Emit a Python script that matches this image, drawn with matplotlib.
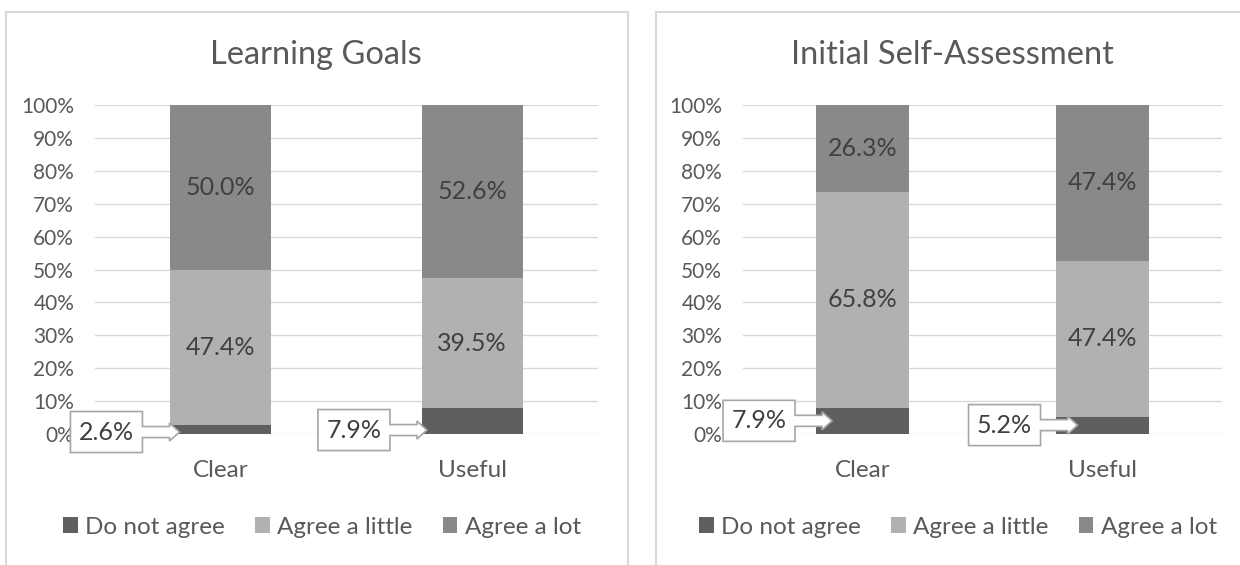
import matplotlib
matplotlib.use("Agg")
import matplotlib.pyplot as plt
import matplotlib.transforms as mtransforms
from matplotlib.patches import Polygon, Rectangle, Patch

plt.rcParams['font.family'] = ['Lato', 'DejaVu Sans']

# ---- data -------------------------------------------------------------
categories = ["Clear", "Useful"]
series_names = ["Do not agree", "Agree a little", "Agree a lot"]

goals_do_not_agree = [2.6, 7.9]
goals_agree_little = [47.4, 39.5]
goals_agree_lot = [50.0, 52.6]

self_do_not_agree = [7.9, 5.2]
self_agree_little = [65.8, 47.4]
self_agree_lot = [26.3, 47.4]

titles = ["Learning Goals", "Initial Self-Assessment"]
y_ticks = [0, 10, 20, 30, 40, 50, 60, 70, 80, 90, 100]
y_tick_labels = [f"{v}%" for v in y_ticks]

# ---- style ------------------------------------------------------------
colors = ["#5f5f5f", "#b1b1b1", "#898989"]
text_grey = "#595959"
label_grey = "#404040"
grid_grey = "#d9d9d9"
label_size = 18

W, H = 1240, 565
fig = plt.figure(figsize=(W / 100, H / 100), dpi=100)
fig.patch.set_facecolor("white")


def px_axes(x0, x1, ytop, ybot):
    return fig.add_axes([x0 / W, (H - ybot) / H, (x1 - x0) / W, (ybot - ytop) / H])


# panel frames
for x0, x1 in [(6, 628), (656, 1260)]:
    fig.add_artist(Rectangle((x0 / W, -0.1), (x1 - x0) / W, (H - 12) / H + 0.1,
                             transform=fig.transFigure, fill=False,
                             edgecolor="#d9d9d9", linewidth=1.5))


def callout(ax, x_tip, y_tip, dx_px, text):
    """Right-arrow callout whose tip sits dx_px right of (x_tip, y_tip)."""
    L, hl, hh, sh, bw, bh = 37, 10, 9, 5.5, 72, 41
    pts = [(0, 0), (-hl, hh), (-hl, sh), (-L, sh), (-L, bh / 2),
           (-L - bw, bh / 2), (-L - bw, -bh / 2), (-L, -bh / 2),
           (-L, -sh), (-hl, -sh), (-hl, -hh)]
    pts = [((x + dx_px) / 100, y / 100) for x, y in pts]
    trans = fig.dpi_scale_trans + mtransforms.ScaledTranslation(x_tip, y_tip, ax.transData)
    ax.add_patch(Polygon(pts, closed=True, transform=trans, facecolor="white",
                         edgecolor="#a6a6a6", linewidth=1.2, clip_on=False, zorder=5))
    ax.text((-L - bw / 2 + dx_px) / 100, 0, text, transform=trans, ha="center",
            va="center", fontsize=label_size, color=label_grey, zorder=6, clip_on=False)


panels = [
    dict(title=titles[0], data=[goals_do_not_agree, goals_agree_little, goals_agree_lot],
         box=(95, 598), width=0.40, title_x=316, legend_x=322,
         callouts=[(0.6, 9), (1.2, 5)]),
    dict(title=titles[1], data=[self_do_not_agree, self_agree_little, self_agree_lot],
         box=(743, 1222), width=0.39, title_x=952, legend_x=958,
         callouts=[(4.0, 16), (2.7, 22)]),
]

for p in panels:
    x0, x1 = p["box"]
    ax = px_axes(x0, x1, 105, 434)
    xs = list(range(len(categories)))
    bottoms = [0.0] * len(categories)
    handles = []
    for k, (vals, name, col) in enumerate(zip(p["data"], series_names, colors)):
        ax.bar(xs, vals, width=p["width"], bottom=bottoms, color=col, zorder=3)
        handles.append(Patch(facecolor=col, label=name))
        if k > 0:
            for i, v in enumerate(vals):
                ax.text(xs[i], bottoms[i] + v / 2, f"{v:.1f}%", ha="center", va="center",
                        fontsize=label_size, color=label_grey, zorder=4)
        else:
            for i, v in enumerate(vals):
                y_tip, dx = p["callouts"][i]
                callout(ax, xs[i] - p["width"] / 2, y_tip, dx, f"{v:.1f}%")
        bottoms = [b + v for b, v in zip(bottoms, vals)]

    ax.set_xlim(-0.5, len(categories) - 0.5)
    ax.set_ylim(0, 100)
    ax.set_yticks(y_ticks)
    ax.set_yticklabels(y_tick_labels)
    ax.set_xticks(xs)
    ax.set_xticklabels(categories)
    ax.tick_params(axis="y", length=0, pad=15, labelsize=15, labelcolor=text_grey)
    ax.tick_params(axis="x", length=0, pad=19, labelsize=17.5, labelcolor=text_grey)
    for s in ax.spines.values():
        s.set_visible(False)
    ax.grid(axis="y", color=grid_grey, linewidth=1.0, zorder=0)
    ax.set_axisbelow(True)

    fig.text(p["title_x"] / W, (H - 55) / H, p["title"],
             ha="center", va="center", fontsize=23.5, color=text_grey)
    fig.legend(handles=handles, loc="center", bbox_to_anchor=(p["legend_x"] / W, (H - 527) / H),
               ncol=3, frameon=False, fontsize=17.5, labelcolor=text_grey,
               handlelength=0.6, handleheight=0.6, handletextpad=0.3, columnspacing=1.25)

fig.savefig("out.png", dpi=100, facecolor="white")
